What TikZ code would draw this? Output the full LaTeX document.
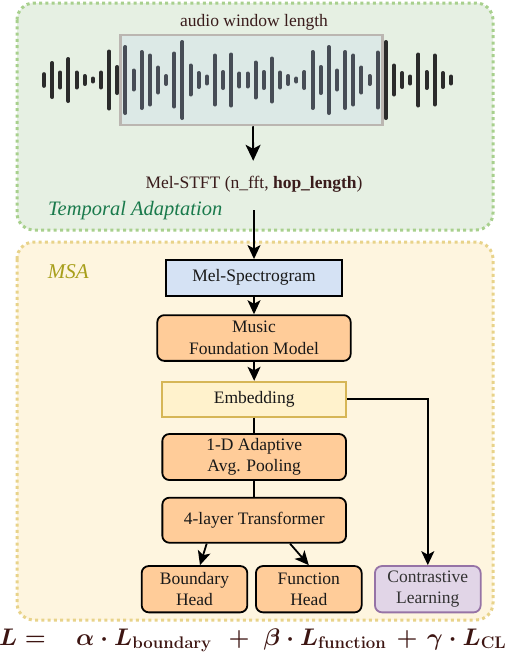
\RequirePackage{fix-cm}
\documentclass[tikz,border=0pt]{standalone}
\usepackage[no-math]{fontspec}
\setmainfont{Liberation Serif}
\usetikzlibrary{arrows.meta}
\definecolor{greenbg}{HTML}{E6F0E3}
\definecolor{greendot}{HTML}{A8D08D}
\definecolor{yellowbg}{HTML}{FEF5DF}
\definecolor{yellowdot}{HTML}{E8D38A}
\definecolor{bluefill}{HTML}{D5E2F4}
\definecolor{orangefill}{HTML}{FFCC99}
\definecolor{embfill}{HTML}{FFF2CC}
\definecolor{embdraw}{HTML}{D6B656}
\definecolor{purplefill}{HTML}{E1D5E7}
\definecolor{purpledraw}{HTML}{9673A6}
\definecolor{winfill}{HTML}{DCE9E6}
\definecolor{windraw}{HTML}{BBB6B1}
\definecolor{barin}{HTML}{474D56}
\definecolor{barout}{HTML}{2B2B2B}
\definecolor{textc}{HTML}{3A1C1C}
\definecolor{tempc}{HTML}{1A7A4C}
\definecolor{msac}{HTML}{A89F1C}
\definecolor{eqc}{HTML}{3D1512}
\begin{document}
\begin{tikzpicture}[x=1pt,y=-1pt,
  region/.style={line width=3pt, dash pattern=on 3pt off 3.3pt, rounded corners=17pt},
  boxtext/.style={font=\fontsize{17.5}{21.5}\selectfont, align=center, inner sep=0pt, text=black!90},
  sqbox/.style={boxtext, draw=black, line width=1.8pt},
  rbox/.style={boxtext, draw=black, line width=1.8pt, rounded corners=7pt, fill=orangefill},
  conn/.style={line width=1.8pt, draw=black},
  arr/.style={conn, -{Stealth[length=14pt,width=13pt,inset=3.5pt]}},
  bigarr/.style={conn, -{Stealth[length=16pt,width=15pt,inset=4pt]}},
  eq/.style={font=\fontsize{24}{28}\selectfont\boldmath, text=eqc, inner sep=0pt, anchor=base}
]
\useasboundingbox (0,0) rectangle (508,656);

% regions
\draw[region, draw=greendot, fill=greenbg] (17,3) rectangle (493,230);
\draw[region, draw=yellowdot, fill=yellowbg] (17,242) rectangle (493,620);

% audio window
\node[draw=windraw, fill=winfill, line width=2.5pt, minimum width=262pt, minimum height=90pt, inner sep=0pt] (win) at (251.7,80) {};
\foreach \h [count=\i] in {15.7,38,19,46,19,12,7,19,61,30,70,23,60,53,29,12,57,80,33,18,11,53,20,55,17,17,39,20,47,19,12,7,20,60,30,70,23,60,53,29,12,59,80,33,18,11,55,20,53,18,11}{
  \pgfmathsetmacro\xx{44+(\i-1)*8.14}
  \pgfmathsetmacro\hh{max(\h/2-2,0.3)}
  \ifnum\i>10 \ifnum\i<43 \def\bc{barin}\else\def\bc{barout}\fi\else\def\bc{barout}\fi
  \draw[line width=4pt, line cap=round, draw=\bc] (\xx,80-\hh) -- (\xx,80+\hh);
}

\node[font=\fontsize{17.5}{21}\selectfont, text=textc, inner sep=0pt, anchor=base] (awl) at (254,26.7) {audio window length};
\node[font=\fontsize{17.5}{21}\selectfont, text=textc, inner sep=0pt, anchor=base] (stft) at (254,188.3) {Mel-STFT (n\_fft, \textbf{hop\_length})};
\node[font=\fontsize{20.5}{24}\selectfont\itshape, text=tempc, inner sep=0pt, anchor=base west] (temp) at (48,215.5) {Temporal Adaptation};
\node[font=\fontsize{21}{25}\selectfont\itshape, text=msac, inner sep=0pt, anchor=base west] (msa) at (47.7,278) {MSA};

% MSA nodes
\node[sqbox, fill=bluefill, minimum width=176.6pt, minimum height=35.7pt] (mel) at (254,277.8) {Mel-Spectrogram};
\node[rbox, minimum width=193.4pt, minimum height=45.7pt] (mfm) at (254,338) {Music\\Foundation Model};
\node[boxtext, draw=embdraw, fill=embfill, line width=1.8pt, minimum width=183.7pt, minimum height=35pt] (emb) at (254.2,399.2) {Embedding};
\node[rbox, minimum width=183.7pt, minimum height=46pt] (pool) at (254.2,457) {1-D Adaptive\\Avg. Pooling};
\node[rbox, minimum width=183.7pt, minimum height=45pt] (tf) at (254.2,520.2) {4-layer Transformer};
\node[rbox, minimum width=105.6pt, minimum height=46.3pt] (bh) at (194.5,589.2) {Boundary\\Head};
\node[rbox, minimum width=105.7pt, minimum height=46.3pt] (fh) at (308.8,589.2) {Function\\Head};
\node[boxtext, draw=purpledraw, fill=purplefill, line width=1.8pt, rounded corners=7pt, text=black!80, minimum width=105.7pt, minimum height=46.3pt] (cl) at (427.8,589.2) {Contrastive\\Learning};

% connectors
\draw[bigarr, shorten >=15pt] ([xshift=1.3pt]win.south) -- ([xshift=-0.7pt]stft.north);
\draw[arr, shorten <=18pt] (stft.south) -- (mel.north);
\draw[arr] (mel.south) -- (mfm.north);
\draw[arr] (mfm.south) -- (emb.north);
\draw[conn] (emb.south) -- (pool.north);
\draw[conn] (pool.south) -- (tf.north);
\draw[arr] ([xshift=-47.5pt]tf.south) -- ([xshift=5.5pt]bh.north);
\draw[arr] ([xshift=35.8pt]tf.south) -- (fh.north);
\draw[arr] (emb.east) -| (cl.north);

% loss equation
\node[eq] (eqL) at (22.5,645) {$L =$};
\node[eq] (eqa) at (144,645) {$\alpha\cdot L_{\mathrm{boundary}}$};
\node[eq] (eqp1) at (239,645) {$+$};
\node[eq] (eqb) at (325,645) {$\beta\cdot L_{\mathrm{function}}$};
\node[eq] (eqp2) at (407,645) {$+$};
\node[eq] (eqc) at (466.7,645) {$\gamma\cdot L_{\mathrm{CL}}$};
\end{tikzpicture}
\end{document}
